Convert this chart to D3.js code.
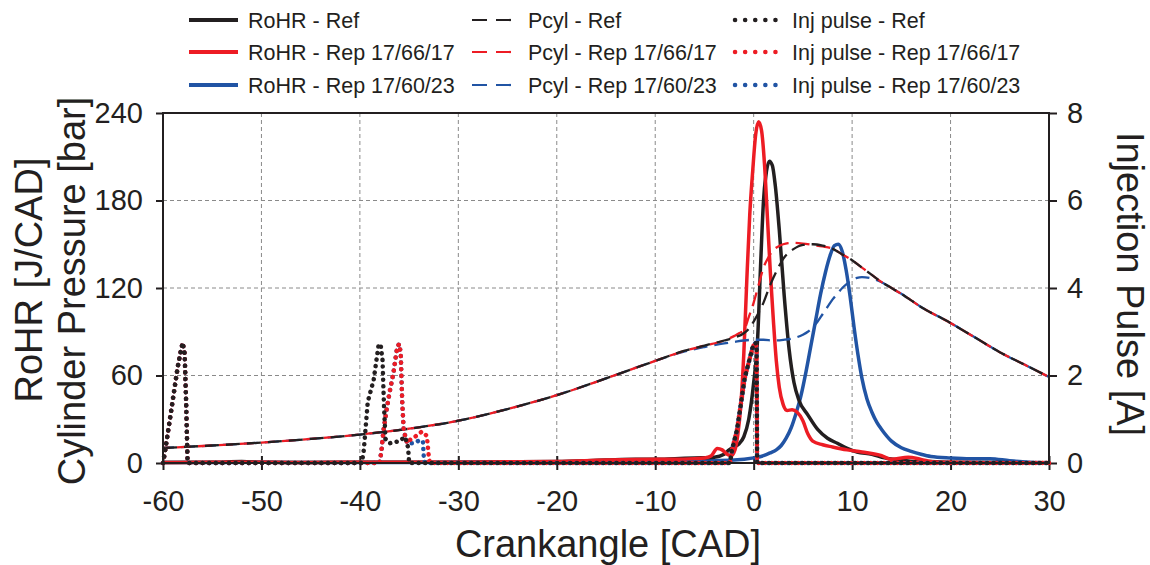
<!DOCTYPE html>
<html><head><meta charset="utf-8">
<script src="https://cdn.jsdelivr.net/npm/d3@7"></script>
<style>
body{margin:0;background:#fff}
svg{display:block}
text{font-family:Arial,"Liberation Sans",Helvetica,sans-serif;fill:#231f20}
</style></head>
<body>
<svg id="chart" width="1150" height="565"></svg>
<script>
// ---------- data ----------
const xTicks = [-60,-50,-40,-30,-20,-10,0,10,20,30];
const yLeftTicks = [0,60,120,180,240];
const yRightTicks = [0,2,4,6,8];

const rohrRef = [[-60,0.3],[-55,0.5],[-52,1],[-50,0.5],[-45,0.3],[-40,0.5],[-35,0.5],[-30,0.5],[-25,0.8],[-20,1],[-15,2],[-12,2.5],[-10,2.5],[-8,3],[-6,3.5],[-4,4],[-3,6],[-2.5,9],[-2,11],[-1.5,13],[-1,18],[-0.5,30],[0,55],[0.4,85],[0.7,135],[1.0,180],[1.3,200],[1.6,207],[1.9,204],[2.2,190],[2.6,160],[3.1,115],[3.6,78],[4.1,55],[4.6,43],[5.5,33],[6.5,23],[7.5,17],[8.5,13.5],[9.5,10],[10.5,7.5],[12,6],[13.3,3.5],[15,2],[16.7,0.7],[18,1],[20,0.5],[25,0.3],[30,0]];
const rohrRep1 = [[-60,0.3],[-55,0.5],[-50,0.5],[-45,0.3],[-40,0.5],[-35,0.5],[-30,0.5],[-25,0.8],[-20,1],[-15,2],[-10,2.5],[-8,2.5],[-6,3],[-5,3.5],[-4.3,5],[-3.7,10],[-3.2,9],[-2.7,6],[-2.3,5],[-1.9,9],[-1.6,20],[-1.3,40],[-1,75],[-0.7,125],[-0.4,170],[-0.1,200],[0.2,225],[0.5,234],[0.8,228],[1.1,205],[1.4,168],[1.7,130],[2.0,98],[2.3,70],[2.6,52],[3.0,40],[3.4,36],[3.9,36.5],[4.4,35],[5,29],[5.5,20],[6,15],[7,12.5],[8,11],[9.5,9],[11,7.5],[13,5],[14,2.5],[15.7,4],[17,2.5],[18.3,0.7],[20,0.5],[25,0.2],[30,0.3]];
const rohrRep2 = [[-60,0.3],[-55,0.3],[-50,0.5],[-45,0.3],[-40,0.3],[-35,0.3],[-30,0.5],[-25,0.5],[-20,0.8],[-10,1],[-5,1.5],[-2,2],[0,3.5],[1,5],[1.7,7],[2.3,9],[2.8,12],[3.3,17],[3.8,24],[4.3,34],[4.8,46],[5.3,62],[5.8,80],[6.3,98],[6.8,116],[7.3,131],[7.8,143],[8.2,149],[8.6,150],[9.0,145],[9.4,132],[9.8,114],[10.2,93],[10.6,74],[11.0,58],[11.5,44],[12,35],[12.5,28],[13,23],[14,15],[15,10.5],[16,8],[17,6],[18,4.5],[20,3.5],[22,3],[24,3],[26,1.5],[28,0.5],[30,0]];

const pcylRef = [[-60,10.3],[-55,12],[-50,14],[-45,16.5],[-40,19.5],[-35,23.5],[-30,29],[-25,37],[-20,46.5],[-15,58],[-10,70],[-7,77],[-5,80.5],[-3,84],[-2,86],[-1,89],[-0.5,92],[0,97],[0.5,103],[1,110],[1.5,119],[2,127],[2.5,134],[3,140],[3.5,144],[4,146.5],[4.5,148.5],[5,149.5],[5.5,150],[6,150],[7,149],[8,147],[9,143],[10,139],[11,134],[12,129],[13,124],[14,120],[15,116],[17,107],[20,96],[22.5,86],[25,76],[27.5,67.5],[30,59]];
const pcylRep1 = [[-60,10.3],[-55,12],[-50,14],[-45,16.5],[-40,19.5],[-35,23.5],[-30,29],[-25,37],[-20,46.5],[-15,58],[-10,70],[-7,77],[-5,80.5],[-3,84],[-2,87],[-1.5,89],[-1,91],[-0.5,100],[0,110],[0.5,122],[1,134],[1.5,141],[2,146],[2.5,148.5],[3,150],[3.5,150.8],[4,151],[5,150.5],[6,149.5],[7,148.5],[8,147],[9,143],[10,139],[11,134],[12,129],[13,124],[14,120],[15,116],[17,107],[20,96],[22.5,86],[25,76],[27.5,67.5],[30,59]];
const pcylRep2 = [[-60,10.3],[-55,12],[-50,14],[-45,16.5],[-40,19.5],[-35,23.5],[-30,29],[-25,37],[-20,46.5],[-15,58],[-10,70],[-7,76.5],[-5,79.5],[-3,82],[-2,83],[-1,84],[0,84.5],[1,84.5],[2,84],[3,84.5],[4,85.5],[5,88],[5.5,90],[6,93],[6.5,97],[7,102],[7.5,107],[8,112],[8.5,116],[9,120],[9.5,123],[10,125.5],[10.5,127],[11,127.5],[12,126.5],[13,124],[14,120],[15,116],[17,107],[20,96],[22.5,86],[25,76],[27.5,67.5],[30,59]];

const injRef = [[-60,0],[-59.8,0.25],[-59.5,0.7],[-59.1,1.3],[-58.8,1.75],[-58.5,2.2],[-58.2,2.55],[-58.0,2.75],[-57.8,2.5],[-57.65,1.4],[-57.5,0],[-39.8,0],[-39.6,0.3],[-39.2,1.4],[-38.6,1.9],[-38.1,2.7],[-37.9,2.72],[-37.7,2.35],[-37.55,1.3],[-37.4,0.55],[-37,0.45],[-36,0.5],[-35.4,0.6],[-35.1,0.35],[-35,0],[-2.4,0],[-2.2,0.3],[-1.7,0.75],[-1.4,1.2],[-0.9,1.95],[-0.5,2.3],[-0.1,2.65],[0.2,2.75],[0.3,2.6],[0.35,0],[30,0]];
const injRep1 = [[-60,0],[-59.8,0.25],[-59.5,0.7],[-59.1,1.3],[-58.8,1.75],[-58.5,2.2],[-58.2,2.55],[-58.0,2.75],[-57.8,2.5],[-57.65,1.4],[-57.5,0],[-38.0,0],[-37.8,0.3],[-37.6,0.75],[-37.3,1.2],[-37.0,1.6],[-36.6,2.05],[-36.2,2.66],[-36.0,2.72],[-35.85,2.5],[-35.7,1.4],[-35.55,0.75],[-35.2,0.45],[-34.9,0.53],[-34.4,0.6],[-33.7,0.72],[-33.2,0.62],[-33.0,0.15],[-32.9,0],[-2.4,0],[-2.2,0.3],[-1.7,0.75],[-1.4,1.2],[-0.9,1.95],[-0.5,2.3],[-0.1,2.65],[0.2,2.75],[0.3,2.6],[0.35,0],[30,0]];
const injRep2 = [[-60,0],[-59.8,0.25],[-59.5,0.7],[-59.1,1.3],[-58.8,1.75],[-58.5,2.2],[-58.2,2.55],[-58.0,2.75],[-57.8,2.5],[-57.65,1.4],[-57.5,0],[-38.0,0],[-37.8,0.3],[-37.6,0.75],[-37.3,1.2],[-37.0,1.6],[-36.6,2.05],[-36.2,2.66],[-36.0,2.72],[-35.85,2.5],[-35.7,1.4],[-35.55,0.75],[-35.2,0.45],[-34.6,0.45],[-33.9,0.52],[-33.6,0.5],[-33.5,0.1],[-33.4,0],[-2.4,0],[-2.2,0.3],[-1.7,0.75],[-1.4,1.2],[-0.9,1.95],[-0.5,2.3],[-0.1,2.65],[0.2,2.75],[0.3,2.6],[0.35,0],[30,0]];

const legendLabels = [
  ["RoHR - Ref","Pcyl - Ref","Inj pulse - Ref"],
  ["RoHR - Rep 17/66/17","Pcyl - Rep 17/66/17","Inj pulse - Rep 17/66/17"],
  ["RoHR - Rep 17/60/23","Pcyl - Rep 17/60/23","Inj pulse - Rep 17/60/23"]
];
const xTitle = "Crankangle [CAD]";
const yTitle1 = "RoHR [J/CAD]";
const yTitle2 = "Cylinder Pressure [bar]";
const yRightTitle = "Injection Pulse [A]";

// ---------- styles ----------
const C_BLACK = "#231f20", C_RED = "#ed1c24", C_BLUE = "#2154a4";
const seriesColors = [C_BLACK, C_RED, C_BLUE];

// ---------- layout ----------
const svg = d3.select("#chart");
const L = 163, R = 1049, T = 113, B = 463;
const x = d3.scaleLinear().domain([-60,30]).range([L,R]);
const yL = d3.scaleLinear().domain([0,240]).range([B,T]);
const yR = d3.scaleLinear().domain([0,8]).range([B,T]);
const fmt = d => String(d);

// grid
const grid = svg.append("g");
grid.selectAll("line.vg").data(xTicks.filter(d=>d>-60&&d<30)).join("line")
  .attr("x1",d=>x(d)).attr("x2",d=>x(d)).attr("y1",T).attr("y2",B)
  .attr("stroke","#8a8a8a").attr("stroke-width",1).attr("stroke-dasharray","4,3");
grid.selectAll("line.hg").data(yLeftTicks.filter(d=>d>0&&d<240)).join("line")
  .attr("x1",L).attr("x2",R).attr("y1",d=>yL(d)).attr("y2",d=>yL(d))
  .attr("stroke","#8a8a8a").attr("stroke-width",1).attr("stroke-dasharray","4,3");

// axes
const fs = 29;
const xAxis = svg.append("g").attr("transform",`translate(0,${B})`)
  .call(d3.axisBottom(x).tickValues(xTicks).tickFormat(fmt).tickSize(7).tickPadding(20).tickSizeOuter(0));
xAxis.selectAll(".tick line").attr("y1",-7);
const yAxisL = svg.append("g").attr("transform",`translate(${L},0)`)
  .call(d3.axisLeft(yL).tickValues(yLeftTicks).tickFormat(fmt).tickSize(7).tickPadding(13).tickSizeOuter(0));
const yAxisR = svg.append("g").attr("transform",`translate(${R},0)`)
  .call(d3.axisRight(yR).tickValues(yRightTicks).tickFormat(fmt).tickSize(8).tickPadding(10).tickSizeOuter(0));
[xAxis,yAxisL,yAxisR].forEach(a=>{
  a.select(".domain").remove();
  a.selectAll(".tick line").attr("stroke",C_BLACK).attr("stroke-width",2);
  a.selectAll(".tick text").attr("font-size",fs).attr("fill",C_BLACK).style("font-family","Arial, 'Liberation Sans', sans-serif");
});
xAxis.selectAll(".tick text").attr("dy","0.71em");

// lines
const lineSmooth = d3.line().x(d=>x(d[0])).y(d=>yL(d[1])).curve(d3.curveMonotoneX);
const lineInj = d3.line().x(d=>x(d[0])).y(d=>yR(d[1]));
const plot = svg.append("g");

const rohrSets = [[rohrRep2,C_BLUE],[rohrRef,C_BLACK],[rohrRep1,C_RED]];
rohrSets.forEach(([d,c])=>plot.append("path").datum(d).attr("d",lineSmooth)
  .attr("fill","none").attr("stroke",c).attr("stroke-width",3.5).attr("stroke-linejoin","round"));

const pcylSets = [[pcylRep2,C_BLUE,3],[pcylRep1,C_RED,7],[pcylRef,C_BLACK,0]];
pcylSets.forEach(([d,c,off])=>plot.append("path").datum(d).attr("d",lineSmooth)
  .attr("fill","none").attr("stroke",c).attr("stroke-width",2.3)
  .attr("stroke-dasharray","14,7").attr("stroke-dashoffset",off));

const injSets = [[injRep2,C_BLUE],[injRep1,C_RED],[injRef,C_BLACK]];
injSets.forEach(([d,c])=>plot.append("path").datum(d).attr("d",lineInj)
  .attr("fill","none").attr("stroke",c).attr("stroke-width",4.5)
  .attr("stroke-linecap","round").attr("stroke-dasharray","0.1,6.5"));

// frame
svg.append("rect").attr("x",L).attr("y",T).attr("width",R-L).attr("height",B-T)
  .attr("fill","none").attr("stroke",C_BLACK).attr("stroke-width",2);

// titles
svg.append("text").attr("x",(L+R)/2 + 2).attr("y",557).attr("text-anchor","middle")
  .attr("font-size",38).text(xTitle);
svg.append("text").attr("transform","translate(42,280) rotate(-90)").attr("text-anchor","middle")
  .attr("font-size",38).text(yTitle1);
svg.append("text").attr("transform","translate(85,291) rotate(-90)").attr("text-anchor","middle")
  .attr("font-size",38).text(yTitle2);
svg.append("text").attr("transform","translate(1117,284) rotate(90)").attr("text-anchor","middle")
  .attr("font-size",38).text(yRightTitle);

// legend
const legRows = [20,52,85];
const legCols = [{lx:189,tx:248},{lx:472,tx:528},{lx:735,tx:792}];
const legStyles = [
  {w:4,dash:null,cap:"butt",len:49},
  {w:2.2,dash:"15,9",cap:"butt",len:39},
  {w:4.5,dash:"0.1,10",cap:"round",len:42}
];
const leg = svg.append("g");
legendLabels.forEach((row,ri)=>{
  row.forEach((lab,ci)=>{
    const st = legStyles[ci], col = legCols[ci], yy = legRows[ri];
    const ln = leg.append("line").attr("x1",col.lx).attr("x2",col.lx+st.len)
      .attr("y1",yy).attr("y2",yy).attr("stroke",seriesColors[ri])
      .attr("stroke-width",st.w).attr("stroke-linecap",st.cap);
    if(st.dash) ln.attr("stroke-dasharray",st.dash);
    leg.append("text").attr("x",col.tx).attr("y",yy).attr("dy","0.35em")
      .attr("font-size",21.5).text(lab);
  });
});
</script>
</body></html>
